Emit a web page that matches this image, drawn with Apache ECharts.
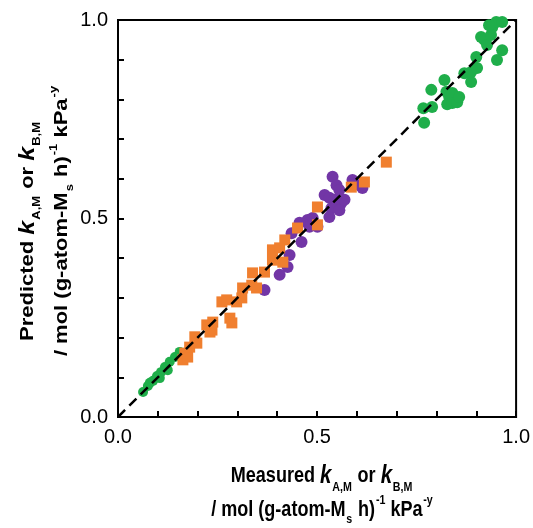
<!DOCTYPE html>
<html style="height: 100%">
<head>
<meta charset="utf-8">
</head>
<body style="height: 100%; margin: 0; background: #fff">
<div id="container" style="width: 533px; height: 528px"></div>
<script type="text/javascript" src="https://cdn.jsdelivr.net/npm/echarts@6/dist/echarts.min.js"></script>
<script type="text/javascript">
// measured, predicted pairs
var greenHigh = [
    [0.769, 0.741], [0.767, 0.778], [0.789, 0.781], [0.787, 0.824], [0.820, 0.849],
    [0.825, 0.819], [0.832, 0.806], [0.840, 0.816], [0.827, 0.788], [0.840, 0.791],
    [0.852, 0.793], [0.857, 0.806], [0.870, 0.866], [0.887, 0.844], [0.887, 0.869],
    [0.902, 0.879], [0.900, 0.907], [0.912, 0.957], [0.920, 0.950], [0.927, 0.937],
    [0.937, 0.962], [0.940, 0.982], [0.950, 0.995], [0.965, 0.995], [0.965, 0.924],
    [0.952, 0.899], [0.932, 0.987]
];
var greenLow = [
    [0.063, 0.063], [0.075, 0.078], [0.088, 0.091], [0.098, 0.103], [0.108, 0.113],
    [0.118, 0.126], [0.130, 0.139], [0.143, 0.151], [0.155, 0.164], [0.105, 0.098],
    [0.080, 0.086], [0.125, 0.118]
];
var orangeSq = [
    [0.163, 0.144], [0.168, 0.161], [0.175, 0.151], [0.180, 0.176], [0.193, 0.202],
    [0.198, 0.186], [0.223, 0.232], [0.231, 0.214], [0.238, 0.239], [0.236, 0.219],
    [0.261, 0.290], [0.273, 0.295], [0.281, 0.249], [0.286, 0.237], [0.298, 0.290],
    [0.311, 0.300], [0.313, 0.325], [0.336, 0.332], [0.338, 0.363], [0.348, 0.325],
    [0.368, 0.365], [0.388, 0.395], [0.388, 0.421], [0.414, 0.390], [0.406, 0.426],
    [0.419, 0.446], [0.451, 0.476], [0.501, 0.529], [0.501, 0.484], [0.586, 0.579],
    [0.619, 0.592], [0.674, 0.642]
];
var purpleCirc = [
    [0.539, 0.605], [0.549, 0.584], [0.556, 0.572], [0.519, 0.559], [0.531, 0.552],
    [0.544, 0.547], [0.561, 0.539], [0.569, 0.547], [0.536, 0.526], [0.556, 0.521],
    [0.589, 0.597], [0.607, 0.584], [0.614, 0.577], [0.476, 0.496], [0.489, 0.501],
    [0.501, 0.479], [0.481, 0.479], [0.456, 0.489], [0.436, 0.463], [0.461, 0.441],
    [0.431, 0.408], [0.426, 0.378], [0.406, 0.358], [0.368, 0.320], [0.531, 0.504]
];
var parity = [[0, 0], [1, 1]];
var tickLabels = ['0.0', '0.5', '1.0'];

var dom = document.getElementById("container");
var myChart = echarts.init(dom);

var fontFam = 'Liberation Sans, Arial, sans-serif';
function labelFmt(v) {
    var s = v.toFixed(1);
    return tickLabels.indexOf(s) >= 0 ? s : '';
}
var rich = {
    b: { fontSize: 22, fontWeight: 'bold', fontFamily: fontFam, color: '#000' },
    k: { fontSize: 25, fontWeight: 'bold', fontStyle: 'italic', fontFamily: fontFam, color: '#000' },
    sub: { fontSize: 13, fontWeight: 'bold', fontFamily: fontFam, color: '#000', verticalAlign: 'bottom', padding: [0, 1, -5, 1] },
    sup: { fontSize: 13, fontWeight: 'bold', fontFamily: fontFam, color: '#000', verticalAlign: 'top', padding: [-5, 0, 0, 1] }
};
var line1 = '{k|k}{sub|A,M}{b| or }{k|k}{sub|B,M}';
var line2 = '{b|/ mol (g-atom-M}{sub|s}{b| h)}{sup|-1}{b| kPa}{sup|-y}';

function axisOpt() {
    return {
        type: 'value',
        min: 0,
        max: 1,
        interval: 0.1,
        axisLine: { lineStyle: { color: '#000', width: 2 } },
        axisTick: { inside: true, length: 6, lineStyle: { color: '#000', width: 2 } },
        axisLabel: { formatter: labelFmt, color: '#000', fontSize: 20, fontFamily: fontFam, margin: 10 },
        splitLine: { show: false }
    };
}

option = {
    animation: false,
    grid: { left: 118, top: 20, right: 16, bottom: 111, show: true, borderColor: '#000', borderWidth: 2 },
    xAxis: axisOpt(),
    yAxis: axisOpt(),
    series: [{
        type: 'scatter', data: greenHigh, symbol: 'circle', symbolSize: 12,
        itemStyle: { color: '#1fae4a', opacity: 1 }
    }, {
        type: 'scatter', data: greenLow, symbol: 'circle', symbolSize: 10,
        itemStyle: { color: '#1fae4a', opacity: 1 }
    }, {
        type: 'scatter', data: purpleCirc, symbol: 'circle', symbolSize: 12,
        itemStyle: { color: '#7236a6', opacity: 1 }
    }, {
        type: 'scatter', data: orangeSq, symbol: 'rect', symbolSize: 11,
        itemStyle: { color: '#f07f2f', opacity: 1 }
    }, {
        type: 'line', data: parity, symbol: 'none', z: 5,
        lineStyle: { color: '#000', width: 2.5, type: [10, 6] }
    }],
    graphic: [{
        type: 'text', x: 322, y: 476, scaleX: 0.82,
        style: { text: '{b|Measured }' + line1, rich: rich, align: 'center', verticalAlign: 'middle' }
    }, {
        type: 'text', x: 322, y: 510, scaleX: 0.82,
        style: { text: line2, rich: rich, align: 'center', verticalAlign: 'middle' }
    }, {
        type: 'text', x: 28, y: 231, rotation: Math.PI / 2, scaleY: 0.85,
        style: { text: '{b|Predicted }' + line1, rich: rich, align: 'center', verticalAlign: 'middle' }
    }, {
        type: 'text', x: 62, y: 221, rotation: Math.PI / 2, scaleY: 0.85,
        style: { text: line2, rich: rich, align: 'center', verticalAlign: 'middle' }
    }]
};
myChart.setOption(option, true);
</script>
</body>
</html>
